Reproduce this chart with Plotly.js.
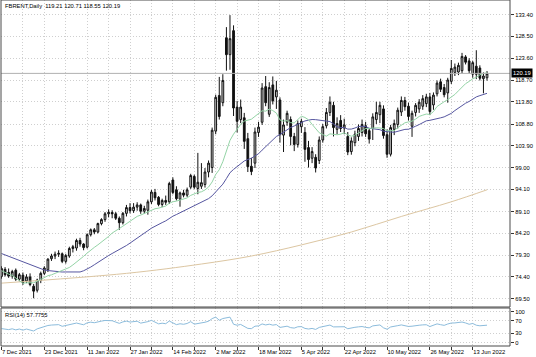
<!DOCTYPE html>
<html><head><meta charset="utf-8">
<script src="https://cdn.plot.ly/plotly-3.0.1.min.js"></script>
<style>html,body{margin:0;padding:0;background:#fff;}#chart{width:536px;height:357px;}</style>
</head><body><div id="chart"></div>
<script>
const symbol = 'FBRENT,Daily';
const startDate = '2021-12-07';
const holidays = ['2021-12-24', '2022-04-15'];
const barCount = 137;

const opens = [74.5,76.1,75.4,74.6,75.9,73.9,74.8,73.5,74.4,72.3,71.4,73.6,75.2,76.0,78.5,79.1,79.5,79.6,77.9,79.1,
80.8,80.9,82.6,81.8,81.1,83.9,85.0,84.5,86.4,87.3,88.6,88.9,88.6,87.6,86.6,88.7,90.0,89.3,90.1,90.6,
89.2,89.4,91.3,93.4,92.3,90.7,91.6,91.3,96.2,94.0,91.9,93.3,92.8,94.6,97.0,94.3,94.8,95.2,98.0,99.0,
107.2,115.2,113.6,128.2,124.4,129.8,112.6,109.8,110.2,105.5,99.3,100.0,106.9,109.2,117.2,111.0,117.6,114.9,114.2,106.3,
109.2,109.8,106.0,104.2,108.2,106.9,103.5,101.1,101.3,100.6,105.2,108.4,111.4,113.0,107.6,109.6,107.9,106.0,102.6,104.6,
106.0,106.9,108.4,107.3,107.8,109.8,110.9,112.2,106.4,102.0,107.6,108.7,111.5,114.1,112.8,108.3,111.4,112.2,112.8,113.4,
114.9,113.1,115.6,118.3,117.0,115.8,118.4,120.4,120.5,120.8,123.9,123.0,120.0,121.8,121.4,119.0,119.21];
const highs = [76.8,76.6,76.3,76.0,76.3,75.3,75.4,75.0,75.2,72.8,74.0,75.6,76.8,78.6,79.6,80.1,80.4,79.9,79.6,81.2,
81.6,83.0,83.2,82.0,84.2,85.3,85.4,86.6,87.6,89.0,89.6,89.4,89.0,88.0,89.0,90.6,91.0,91.0,91.2,90.9,
90.4,91.8,94.0,94.2,92.6,92.0,92.7,95.8,96.8,94.8,93.6,94.0,94.5,97.6,97.4,102.3,100.0,98.9,100.6,108.0,
115.4,119.4,120.0,130.6,133.3,131.0,114.0,114.3,111.3,106.8,101.2,108.0,109.3,118.0,119.6,118.2,119.5,118.5,114.8,109.8,
111.8,110.5,106.8,109.6,110.0,108.1,105.0,103.6,102.0,106.0,108.8,112.4,115.0,113.8,110.3,110.8,110.0,107.0,105.8,107.3,
108.7,109.8,109.3,107.8,111.2,113.8,113.8,113.0,107.6,108.6,109.8,112.5,115.0,114.9,113.6,111.8,113.5,114.4,115.3,115.6,
115.8,115.9,118.6,119.0,117.8,119.2,123.2,122.4,122.6,124.8,124.3,123.6,123.0,125.4,122.0,120.4,120.71];
const lows = [74.0,74.5,74.2,74.0,73.5,73.4,72.6,73.0,72.3,69.6,70.9,73.0,74.8,75.5,78.0,78.4,78.9,77.5,77.4,78.7,
79.9,80.3,81.2,80.4,80.8,83.5,84.0,84.2,86.0,86.8,87.8,87.6,87.2,85.0,86.2,88.0,88.7,88.8,89.3,88.6,
88.6,88.4,90.8,91.6,90.3,90.1,90.6,90.8,93.0,91.6,90.2,92.3,92.4,94.2,94.2,93.0,94.2,94.5,96.8,97.8,
106.5,109.8,112.8,120.8,121.0,110.6,106.9,109.0,103.2,98.0,97.3,98.9,105.9,108.6,112.8,110.4,113.2,112.2,104.6,102.5,
108.4,104.0,102.7,103.5,106.8,100.3,99.0,100.0,97.9,99.8,104.6,107.8,110.6,106.0,106.5,107.0,106.5,101.8,101.9,103.8,
105.0,106.0,105.9,104.4,105.2,108.8,109.0,105.5,101.2,101.5,106.3,107.8,110.6,111.8,109.6,105.9,110.5,111.3,112.0,112.6,
110.8,112.0,115.0,116.0,114.8,113.6,117.8,119.6,119.8,120.2,122.2,120.2,119.2,118.9,118.6,115.7,118.55];
const closes = [76.3,74.9,74.6,75.6,73.9,74.9,73.1,74.4,72.7,71.2,73.7,75.2,76.4,78.4,79.1,79.5,79.7,77.9,79.2,80.8,
81.2,82.6,81.8,81.0,83.9,85.0,84.5,86.4,87.3,88.6,88.9,88.6,87.6,86.6,88.7,90.0,89.3,90.1,90.6,89.2,
89.8,91.3,93.5,92.2,90.7,91.6,91.2,95.4,93.4,92.0,93.3,92.8,94.0,97.2,94.6,95.7,95.6,98.0,100.0,107.4,
114.8,110.5,118.6,124.4,128.0,112.4,109.4,112.6,104.9,99.2,98.1,107.0,108.1,116.9,113.6,117.0,114.0,116.4,106.4,108.6,
111.2,106.0,104.2,108.9,109.4,103.1,100.8,102.6,98.9,105.2,108.2,111.4,113.7,108.0,108.9,107.8,108.6,102.5,105.0,106.5,
107.8,108.7,106.6,105.4,110.4,111.4,113.0,106.2,102.0,108.0,108.9,111.9,114.1,112.7,110.5,111.2,113.0,113.7,114.5,114.9,
111.6,115.3,118.0,116.6,115.4,118.7,121.3,121.6,122.0,124.0,122.7,120.8,122.6,120.0,119.1,119.6,120.19];
// closes before the first visible bar, used only to start the moving averages and RSI
const priorCloses = [85.99,86.40,84.58,84.32,84.38,84.71,84.72,81.99,80.54,82.74,83.43,84.78,82.64,82.87,82.17,
82.05,82.43,80.28,81.24,78.89,79.70,82.31,82.25,82.22,72.72,73.44,70.57,68.87,69.67,69.88,73.08];
// long moving average at these bars
const ma200Bars = [0, 35, 56, 70, 84, 98, 112, 126, 136];
const ma200Vals = [73.0, 75.2, 77.3, 79.1, 81.6, 84.5, 88.0, 91.3, 94.0];
const fastPeriod = 14, slowPeriod = 30, rsiPeriod = 14;
const priceTicks = [133.40,128.50,123.60,118.70,113.80,108.80,103.90,99.00,94.10,89.10,84.20,79.30,74.40,69.50];
const rsiTicks = [100, 70, 30, 0];
const dateLabels = ['7 Dec 2021','23 Dec 2021','11 Jan 2022','27 Jan 2022','14 Feb 2022','2 Mar 2022',
'18 Mar 2022','5 Apr 2022','22 Apr 2022','10 May 2022','26 May 2022','13 Jun 2022'];
const rsiLabel = 'RSI(14) 57.7755';

function buildDates() {
  const out = []; const d = new Date(startDate + 'T00:00:00Z');
  while (out.length < barCount) {
    const wd = d.getUTCDay(); const s = d.toISOString().slice(0, 10);
    if (wd !== 0 && wd !== 6 && !holidays.includes(s)) out.push(s);
    d.setUTCDate(d.getUTCDate() + 1);
  }
  return out;
}
const dates = buildDates();
const all = priorCloses.concat(closes);
const off = priorCloses.length;
function sma(p) {
  return closes.map((_, i) => { const j = i + off; let s = 0; for (let k = j - p + 1; k <= j; k++) s += all[k]; return s / p; });
}
function rsi(p) {
  let g = 0, l = 0;
  for (let k = 1; k <= p; k++) { const d = all[k] - all[k - 1]; if (d > 0) g += d; else l -= d; }
  g /= p; l /= p;
  const res = new Array(all.length).fill(null);
  res[p] = 100 - 100 / (1 + g / l);
  for (let k = p + 1; k < all.length; k++) {
    const d = all[k] - all[k - 1];
    g = (g * (p - 1) + Math.max(d, 0)) / p; l = (l * (p - 1) + Math.max(-d, 0)) / p;
    res[k] = l === 0 ? 100 : 100 - 100 / (1 + g / l);
  }
  return res.slice(off);
}
const n = closes.length;
const font = 'Liberation Sans, Arial, sans-serif';
const fs = 5.8;
const mainDom = [0.1127, 1], rsiDom = [0, 0.1098];
const tickIdx = dates.map((_, i) => i).filter(i => i % 6 === 0);

const traces = [
  { type: 'candlestick', x: dates, open: opens, high: highs, low: lows, close: closes,
    xaxis: 'x', yaxis: 'y', whiskerwidth: 0, hoverinfo: 'skip',
    increasing: { line: { color: '#111', width: 1 }, fillcolor: '#d4d4d4' },
    decreasing: { line: { color: '#111', width: 1 }, fillcolor: '#111' } },
  { type: 'scatter', mode: 'lines', x: ma200Bars.map(i => dates[i]), y: ma200Vals, xaxis: 'x', yaxis: 'y',
    line: { color: '#dcc6a2', width: 1, shape: 'spline' }, hoverinfo: 'skip' },
  { type: 'scatter', mode: 'lines', x: dates, y: sma(slowPeriod), xaxis: 'x', yaxis: 'y',
    line: { color: '#5656a0', width: 1 }, hoverinfo: 'skip' },
  { type: 'scatter', mode: 'lines', x: dates, y: sma(fastPeriod), xaxis: 'x', yaxis: 'y',
    line: { color: '#94d4a6', width: 1 }, hoverinfo: 'skip' },
  { type: 'scatter', mode: 'lines', x: dates, y: rsi(rsiPeriod), xaxis: 'x', yaxis: 'y2',
    line: { color: '#8cbcdc', width: 1 }, hoverinfo: 'skip' }
];
const grid = { showgrid: true, gridcolor: '#cfcfcf', griddash: '1px,2px', gridwidth: 1, zeroline: false, showline: false, fixedrange: true };
const layout = {
  width: 536, height: 357, margin: { l: 1, r: 26, t: 0, b: 11, pad: 0 },
  paper_bgcolor: '#fff', plot_bgcolor: '#fff', showlegend: false,
  font: { family: font, size: fs, color: '#000' },
  xaxis: Object.assign({}, grid, { type: 'category', anchor: 'y2', domain: [0, 1], range: [-0.14, 142.44],
    tickvals: tickIdx.map(i => dates[i]), ticktext: tickIdx.map(i => i % 12 === 0 ? dateLabels[i / 12] : ''),
    ticks: 'outside', ticklen: 3, tickcolor: '#333', ticklabelposition: 'outside right',
    tickfont: { family: font, size: fs, color: '#000' }, rangeslider: { visible: false }, automargin: false }),
  yaxis: Object.assign({}, grid, { domain: mainDom, range: [67.63, 136.70], side: 'right', anchor: 'x',
    tickvals: priceTicks, ticktext: priceTicks.map(v => v.toFixed(2)), ticks: 'outside', ticklen: 3, tickcolor: '#333',
    tickfont: { family: font, size: fs, color: '#000' }, automargin: false }),
  yaxis2: Object.assign({}, grid, { domain: rsiDom, range: [-10.6, 111.9], side: 'right', anchor: 'x',
    tickvals: rsiTicks, ticktext: rsiTicks.map(String), ticks: 'outside', ticklen: 3, tickcolor: '#333',
    tickfont: { family: font, size: fs, color: '#000' }, automargin: false }),
  shapes: [
    { type: 'line', xref: 'paper', yref: 'y', x0: 0, x1: 1, y0: closes[n - 1], y1: closes[n - 1], line: { color: '#b0b0b0', width: 1 } },
    { type: 'rect', xref: 'paper', yref: 'paper', x0: 0, x1: 1, y0: mainDom[0], y1: mainDom[1], line: { color: '#4a4a4a', width: 1 } },
    { type: 'rect', xref: 'paper', yref: 'paper', x0: 0, x1: 1, y0: rsiDom[0], y1: rsiDom[1], line: { color: '#4a4a4a', width: 1 } }
  ],
  annotations: [
    { xref: 'paper', yref: 'paper', x: 0, y: 1, xanchor: 'left', yanchor: 'top', xshift: 2, yshift: -1, showarrow: false,
      text: symbol + '  ' + [opens[n - 1], highs[n - 1], lows[n - 1], closes[n - 1]].map(v => v.toFixed(2)).join(' '),
      font: { family: font, size: fs, color: '#000' } },
    { xref: 'paper', yref: 'paper', x: 0, y: rsiDom[1], xanchor: 'left', yanchor: 'top', xshift: 2, yshift: -2, showarrow: false,
      text: rsiLabel, font: { family: font, size: fs, color: '#000' } },
    { xref: 'paper', yref: 'y', x: 1, y: closes[n - 1], xanchor: 'left', yanchor: 'middle', xshift: 1, showarrow: false,
      text: closes[n - 1].toFixed(2), bgcolor: '#000', borderpad: 1, font: { family: font, size: fs, color: '#fff' } }
  ]
};
Plotly.newPlot('chart', traces, layout, { staticPlot: true, displayModeBar: false });
</script></body></html>
